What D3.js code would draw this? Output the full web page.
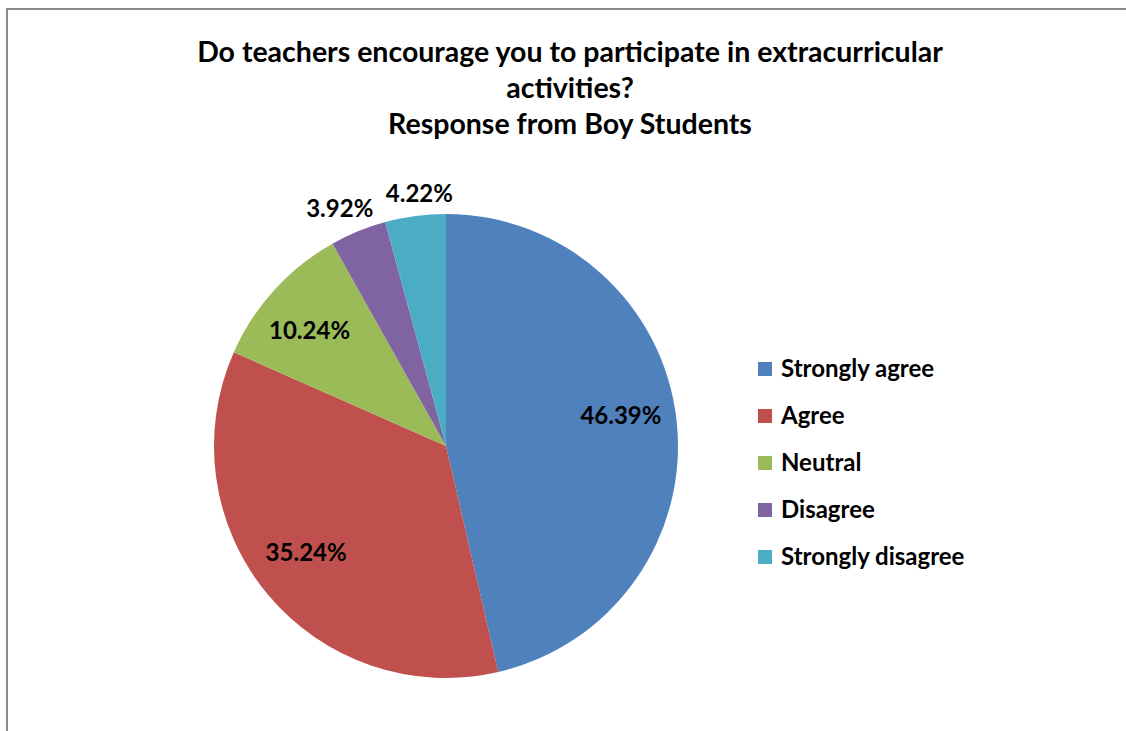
<!DOCTYPE html>
<html><head><meta charset="utf-8">
<script src="https://cdn.jsdelivr.net/npm/d3@7"></script>
<style>html,body{margin:0;background:#fff;overflow:hidden}svg{display:block}</style>
</head><body>
<svg id="c" width="1126" height="731"></svg>
<script>
const categories = ["Strongly agree","Agree","Neutral","Disagree","Strongly disagree"];
const values = [46.39, 35.24, 10.24, 3.92, 4.22];
const labels = ["46.39%","35.24%","10.24%","3.92%","4.22%"];
const colors = ["#4F81BD","#C0504D","#9BBB59","#8064A2","#4BACC6"];
const titleLines = ["Do teachers encourage you to participate in extracurricular","activities?","Response from Boy Students"];

const svg = d3.select("#c");
const font = "Lato, 'Open Sans', sans-serif";
svg.append("path").attr("d","M7,731 L7,9 L1126,9")
  .attr("fill","none").attr("stroke","#8c8c8c").attr("stroke-width",2);

svg.append("g").selectAll("text").data(titleLines).join("text")
  .attr("x",570).attr("y",(d,i)=>62+i*36).attr("text-anchor","middle")
  .attr("font-family",font).attr("font-weight","bold").attr("font-size",28.5).attr("fill","#000")
  .text(d=>d);

const cx=446, cy=446, r=232;
const pie = d3.pie().sort(null).value(d=>d);
const arcs = pie(values);
const arc = d3.arc().innerRadius(0).outerRadius(r);
const g = svg.append("g").attr("transform",`translate(${cx},${cy})`);
g.selectAll("path").data(arcs).join("path").attr("d",arc).attr("fill",(d,i)=>colors[i]);

const labelArcIn = d3.arc().innerRadius(r*0.62).outerRadius(r*0.62);
const labelArcOut = d3.arc().innerRadius(r*1.13).outerRadius(r*1.13);
const offs = [[32,-14],[-29,15],[-30,-19],[-7,5],[8,7]];
g.selectAll("text").data(arcs).join("text")
  .attr("transform",(d,i)=>{
    let p = (values[i] > 8 ? labelArcIn : labelArcOut).centroid(d);
    p=[p[0]+offs[i][0],p[1]+offs[i][1]];
    return `translate(${p[0]},${p[1]})`;
  })
  .attr("text-anchor","middle").attr("dy","0.35em")
  .attr("font-family",font).attr("font-weight","bold").attr("font-size",24).attr("fill","#000")
  .text((d,i)=>labels[i]);

const y = d3.scalePoint().domain(categories).range([369,557]);
const leg = svg.append("g").selectAll("g").data(categories).join("g")
  .attr("transform",d=>`translate(758,${y(d)})`);
leg.append("rect").attr("x",0).attr("y",-7).attr("width",14).attr("height",14).attr("fill",(d,i)=>colors[i]);
leg.append("text").attr("x",23).attr("dy","0.35em")
  .attr("font-family",font).attr("font-weight","bold").attr("font-size",24).attr("fill","#000")
  .text(d=>d);
</script>
</body></html>
